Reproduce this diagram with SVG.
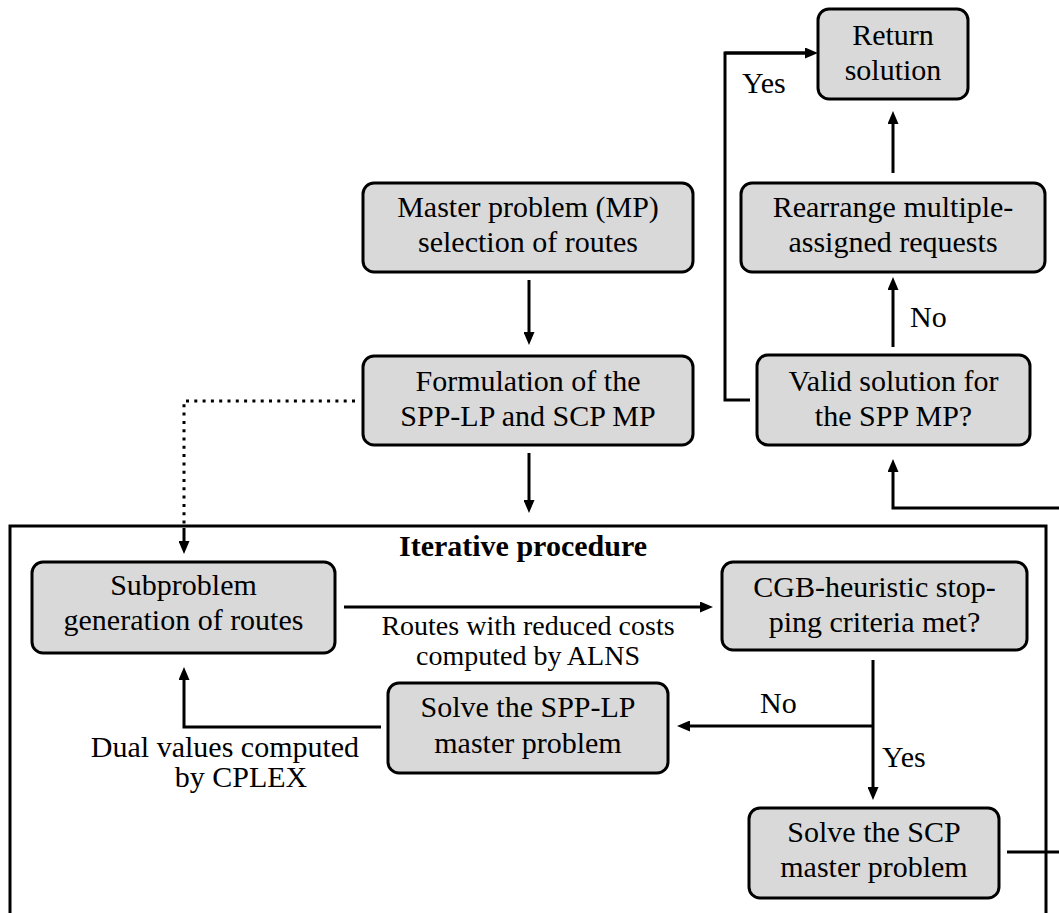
<svg xmlns="http://www.w3.org/2000/svg" width="1059" height="913" viewBox="0 0 1059 913">
  <defs>
    <marker id="tip" viewBox="0 0 13 11" refX="0" refY="5.5" markerWidth="13" markerHeight="11" markerUnits="userSpaceOnUse" orient="auto">
      <path d="M0,0 L13,5.5 L0,11 Z" fill="#000"/>
    </marker>
    <style>
      .box { fill: #d9d9d9; stroke: #000; stroke-width: 3; }
      .t { font-family: "Liberation Serif", "Times New Roman", serif; font-size: 30px; fill: #000; text-anchor: middle; }
      .s { font-size: 28px; }
      .b { font-weight: bold; }
      .l { text-anchor: start; }
      .wire { fill: none; stroke: #000; stroke-width: 3; }
      .arrow { fill: none; stroke: #000; stroke-width: 3; marker-end: url(#tip); }
      .dots { fill: none; stroke: #000; stroke-width: 3; stroke-dasharray: 3 5.3; }
    </style>
  </defs>
  <rect width="1059" height="913" fill="#fff"/>

  <!-- frame of the iterative procedure (runs past the canvas bottom) -->
  <g id="iterative-frame">
    <rect x="10" y="526" width="1036" height="420" fill="none" stroke="#000" stroke-width="3"/>
    <text class="t b" x="523" y="556">Iterative procedure</text>
  </g>

  <!-- connectors -->
  <g id="connectors">
    <path class="arrow" d="M893,173 V124"/>
    <path class="arrow" d="M893,347 V290"/>
    <path class="wire" d="M750,400 H725 V53 H805"/>
    <path class="arrow" d="M725,53 H805"/>
    <path class="arrow" d="M1070,508 H893 V472"/>
    <path class="wire" d="M1007,852 H1070"/>
    <path class="arrow" d="M529,280 V332"/>
    <path class="arrow" d="M529,453 V500"/>
    <path class="dots" d="M355,401 H184 V528"/>
    <path class="arrow" d="M184,528 V541"/>
    <path class="arrow" d="M344,607 H700"/>
    <path class="wire" d="M873,660 V726" stroke-width="4"/>
    <path class="arrow" d="M873,726 H690"/>
    <path class="arrow" d="M873,726 V787"/>
    <path class="arrow" d="M381,727 H184 V680"/>
  </g>

  <!-- connector labels -->
  <g id="labels">
    <text class="t l" x="742" y="93">Yes</text>
    <text class="t l" x="910" y="327">No</text>
    <text class="t s" x="528" y="635">Routes with reduced costs</text>
    <text class="t s" x="528" y="665">computed by ALNS</text>
    <text class="t l" x="760" y="713">No</text>
    <text class="t l" x="882" y="767">Yes</text>
    <text class="t" x="225" y="757">Dual values computed</text>
    <text class="t" x="241" y="787">by CPLEX</text>
  </g>

  <g id="return-solution">
    <rect class="box" x="818" y="9" width="150" height="90" rx="11"/>
    <text class="t" x="893" y="45">Return</text>
    <text class="t" x="893" y="80">solution</text>
  </g>

  <g id="rearrange">
    <rect class="box" x="741" y="183" width="304" height="89" rx="11"/>
    <text class="t" x="893" y="217">Rearrange multiple-</text>
    <text class="t" x="893" y="252">assigned requests</text>
  </g>

  <g id="valid-solution">
    <rect class="box" x="757" y="355" width="273" height="90" rx="11"/>
    <text class="t" x="893.5" y="391">Valid solution for</text>
    <text class="t" x="893.5" y="426">the SPP MP?</text>
  </g>

  <g id="master-problem">
    <rect class="box" x="363" y="183" width="330" height="89" rx="11"/>
    <text class="t" x="528" y="217">Master problem (MP)</text>
    <text class="t" x="528" y="252">selection of routes</text>
  </g>

  <g id="formulation">
    <rect class="box" x="363" y="356" width="330" height="89" rx="11"/>
    <text class="t" x="528" y="391">Formulation of the</text>
    <text class="t" x="528" y="426">SPP-LP and SCP MP</text>
  </g>

  <g id="subproblem">
    <rect class="box" x="32" y="562" width="303" height="91" rx="11"/>
    <text class="t" x="183.5" y="595">Subproblem</text>
    <text class="t" x="183.5" y="630">generation of routes</text>
  </g>

  <g id="stopping-criteria">
    <rect class="box" x="722" y="562" width="305" height="88" rx="11"/>
    <text class="t" x="874.5" y="597">CGB-heuristic stop-</text>
    <text class="t" x="874.5" y="632">ping criteria met?</text>
  </g>

  <g id="solve-spp-lp">
    <rect class="box" x="388" y="683" width="280" height="90" rx="11"/>
    <text class="t" x="528" y="717">Solve the SPP-LP</text>
    <text class="t" x="528" y="753">master problem</text>
  </g>

  <g id="solve-scp">
    <rect class="box" x="749" y="808" width="250" height="90" rx="11"/>
    <text class="t" x="874" y="842">Solve the SCP</text>
    <text class="t" x="874" y="877">master problem</text>
  </g>
</svg>
